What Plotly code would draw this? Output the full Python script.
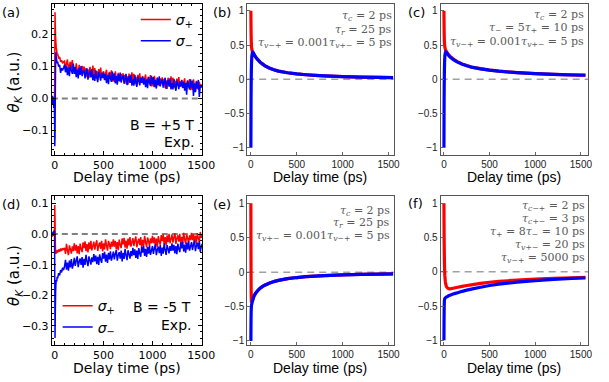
import plotly.graph_objects as go

W, H = 609, 382

# ---------------- experimental data (panels a, d) ----------------
t_exp = [-30, -25, -20, -15, -10, -5, -2, 0, 3, 6, 9, 12, 15, 20, 25, 30, 40, 50, 60, 70, 80, 90] + list(range(100, 1520, 10))

a_sigma_plus = [0.002, -0.012, 0.006, -0.018, 0.004, -0.028, 0.010, 0.080, 0.270, 0.220, 0.190, 0.175, 0.160, 0.150, 0.135, 0.140, 0.125, 0.130, 0.115, 0.120, 0.110, 0.115,
    0.117, 0.091, 0.109, 0.122, 0.087, 0.105, 0.115, 0.094, 0.120, 0.085,
    0.097, 0.077, 0.110, 0.089, 0.073, 0.105, 0.093, 0.078, 0.102, 0.086,
    0.100, 0.076, 0.095, 0.067, 0.091, 0.064, 0.099, 0.082, 0.071, 0.103,
    0.073, 0.095, 0.063, 0.086, 0.059, 0.092, 0.070, 0.097, 0.066, 0.080,
    0.085, 0.059, 0.077, 0.090, 0.055, 0.073, 0.083, 0.062, 0.088, 0.053,
    0.072, 0.052, 0.085, 0.064, 0.048, 0.080, 0.068, 0.053, 0.077, 0.061,
    0.079, 0.055, 0.074, 0.046, 0.070, 0.043, 0.078, 0.061, 0.050, 0.082,
    0.055, 0.077, 0.045, 0.068, 0.041, 0.074, 0.052, 0.079, 0.048, 0.062,
    0.070, 0.044, 0.062, 0.075, 0.040, 0.058, 0.068, 0.047, 0.073, 0.038,
    0.058, 0.038, 0.071, 0.050, 0.034, 0.066, 0.054, 0.039, 0.063, 0.047,
    0.066, 0.042, 0.061, 0.033, 0.057, 0.030, 0.065, 0.048, 0.037, 0.069,
    0.043, 0.065, 0.033, 0.056, 0.029, 0.062, 0.040, 0.067, 0.036, 0.050,
    0.058, 0.032, 0.050, 0.063, 0.028, 0.046, 0.056, 0.035, 0.061, 0.026,
    0.047, 0.027, 0.060, 0.039, 0.023, 0.055, 0.043, 0.028, 0.052, 0.036,
    0.044, 0.036]

a_sigma_minus = [-0.004, 0.008, -0.020, 0.004, -0.030, 0.002, -0.060, -0.150, -0.120, 0.020, 0.120, 0.145, 0.130, 0.120, 0.110, 0.115, 0.100, 0.105, 0.080, 0.095, 0.088, 0.095,
    0.106, 0.082, 0.101, 0.073, 0.097, 0.070, 0.105, 0.088, 0.077, 0.109,
    0.077, 0.099, 0.067, 0.090, 0.063, 0.096, 0.074, 0.101, 0.070, 0.084,
    0.089, 0.063, 0.081, 0.094, 0.059, 0.077, 0.087, 0.066, 0.092, 0.057,
    0.075, 0.055, 0.088, 0.067, 0.051, 0.083, 0.071, 0.056, 0.080, 0.064,
    0.081, 0.057, 0.076, 0.048, 0.072, 0.045, 0.080, 0.063, 0.052, 0.084,
    0.057, 0.079, 0.047, 0.070, 0.043, 0.076, 0.054, 0.081, 0.050, 0.064,
    0.072, 0.046, 0.064, 0.077, 0.042, 0.060, 0.070, 0.049, 0.075, 0.040,
    0.060, 0.040, 0.073, 0.052, 0.036, 0.068, 0.056, 0.041, 0.065, 0.049,
    0.068, 0.044, 0.063, 0.035, 0.059, 0.032, 0.067, 0.050, 0.039, 0.071,
    0.045, 0.067, 0.035, 0.058, 0.031, 0.064, 0.042, 0.069, 0.038, 0.052,
    0.060, 0.034, 0.052, 0.065, 0.030, 0.048, 0.058, 0.037, 0.063, 0.028,
    0.048, 0.028, 0.061, 0.040, 0.024, 0.056, 0.044, 0.029, 0.053, 0.037,
    0.057, 0.033, 0.052, 0.024, 0.048, 0.012, 0.056, 0.039, 0.028, 0.060,
    0.034, 0.056, 0.008, 0.047, 0.020, 0.053, 0.031, 0.058, 0.005, 0.041,
    0.034, 0.042]

d_sigma_plus = [0.002, -0.008, 0.004, -0.006, 0.003, 0.008, 0.020, 0.095, 0.050, -0.030, -0.060, -0.065, -0.055, -0.062, -0.052, -0.060, -0.050, -0.058, -0.047, -0.055, -0.046, -0.052,
    -0.045, -0.065, -0.032, -0.053, -0.069, -0.037, -0.049, -0.064, -0.040, -0.056,
    -0.030, -0.054, -0.035, -0.063, -0.039, -0.066, -0.031, -0.048, -0.059, -0.027,
    -0.046, -0.024, -0.056, -0.033, -0.060, -0.027, -0.049, -0.022, -0.053, -0.039,
    -0.025, -0.051, -0.033, -0.020, -0.055, -0.037, -0.027, -0.048, -0.022, -0.057,
    -0.030, -0.050, -0.017, -0.038, -0.054, -0.022, -0.034, -0.049, -0.025, -0.041,
    -0.017, -0.041, -0.022, -0.050, -0.026, -0.053, -0.018, -0.035, -0.046, -0.014,
    -0.034, -0.012, -0.044, -0.021, -0.048, -0.015, -0.037, -0.010, -0.041, -0.027,
    -0.013, -0.039, -0.021, -0.008, -0.043, -0.025, -0.015, -0.036, -0.010, -0.045,
    -0.019, -0.039, -0.006, -0.027, -0.043, -0.011, -0.023, -0.038, -0.014, -0.030,
    -0.006, -0.030, -0.011, -0.039, -0.015, -0.042, -0.007, -0.024, -0.035, -0.003,
    -0.023, -0.001, -0.033, -0.010, -0.037, -0.004, -0.026, 0.001, -0.030, -0.016,
    -0.002, -0.028, -0.010, 0.003, -0.032, -0.014, -0.004, -0.025, 0.001, -0.034,
    -0.009, -0.029, 0.004, -0.017, -0.033, -0.001, -0.013, -0.028, -0.004, -0.020,
    0.004, -0.020, -0.001, -0.029, -0.005, -0.032, 0.003, -0.014, -0.025, 0.007,
    -0.012, -0.004]

d_sigma_minus = [-0.003, 0.006, -0.004, 0.008, 0.002, 0.012, 0.005, -0.120, -0.340, -0.250, -0.190, -0.165, -0.150, -0.155, -0.140, -0.145, -0.128, -0.135, -0.118, -0.125, -0.110, -0.118,
    -0.106, -0.084, -0.116, -0.093, -0.120, -0.087, -0.109, -0.082, -0.113, -0.099,
    -0.078, -0.104, -0.086, -0.073, -0.108, -0.090, -0.080, -0.101, -0.075, -0.110,
    -0.081, -0.101, -0.068, -0.089, -0.105, -0.073, -0.085, -0.100, -0.076, -0.092,
    -0.065, -0.089, -0.070, -0.098, -0.074, -0.101, -0.066, -0.083, -0.094, -0.062,
    -0.080, -0.058, -0.090, -0.067, -0.094, -0.061, -0.083, -0.056, -0.087, -0.073,
    -0.057, -0.083, -0.065, -0.052, -0.087, -0.069, -0.059, -0.080, -0.054, -0.089,
    -0.061, -0.081, -0.048, -0.069, -0.085, -0.053, -0.065, -0.080, -0.056, -0.072,
    -0.045, -0.069, -0.050, -0.078, -0.054, -0.081, -0.046, -0.063, -0.074, -0.042,
    -0.061, -0.039, -0.071, -0.048, -0.075, -0.042, -0.064, -0.037, -0.068, -0.054,
    -0.039, -0.065, -0.047, -0.034, -0.069, -0.051, -0.041, -0.062, -0.036, -0.071,
    -0.044, -0.064, -0.031, -0.052, -0.068, -0.036, -0.048, -0.063, -0.039, -0.055,
    -0.030, -0.054, -0.035, -0.063, -0.039, -0.066, -0.031, -0.048, -0.059, -0.027,
    -0.047, -0.025, -0.057, -0.034, -0.061, -0.028, -0.050, -0.023, -0.054, -0.040,
    -0.026, -0.052, -0.034, -0.021, -0.056, -0.038, -0.028, -0.049, -0.023, -0.058,
    -0.040, -0.032]

# ---------------- model curves (panels b, c, e, f) ----------------
t_mod = [0, 1, 2, 3, 5, 7, 10, 15, 20, 25, 30, 40, 50, 60, 80, 100, 125, 150, 200, 250, 300, 400, 500, 600, 700, 800, 1000, 1200, 1400, 1550]

b_plus = [1.0, 0.85, 0.72, 0.63, 0.52, 0.47, 0.44, 0.41, 0.395, 0.385, 0.375, 0.35, 0.33, 0.31, 0.28, 0.25, 0.225, 0.20, 0.165, 0.14, 0.12, 0.095, 0.078, 0.066, 0.057, 0.050, 0.040, 0.032, 0.027, 0.024]
b_minus = [-1.0, -0.6, -0.3, -0.1, 0.12, 0.24, 0.33, 0.38, 0.395, 0.39, 0.375, 0.35, 0.33, 0.31, 0.28, 0.25, 0.225, 0.20, 0.165, 0.14, 0.12, 0.095, 0.078, 0.066, 0.057, 0.050, 0.040, 0.032, 0.027, 0.024]

c_plus = [1.0, 0.86, 0.74, 0.65, 0.55, 0.50, 0.47, 0.44, 0.42, 0.41, 0.40, 0.38, 0.36, 0.345, 0.32, 0.30, 0.275, 0.255, 0.225, 0.20, 0.18, 0.155, 0.135, 0.12, 0.108, 0.098, 0.083, 0.072, 0.064, 0.060]
c_minus = [-1.0, -0.6, -0.3, -0.1, 0.12, 0.25, 0.34, 0.385, 0.40, 0.395, 0.385, 0.37, 0.35, 0.335, 0.31, 0.29, 0.268, 0.25, 0.22, 0.197, 0.178, 0.153, 0.133, 0.118, 0.107, 0.097, 0.082, 0.071, 0.063, 0.059]

e_plus = [1.0, 0.4, -0.05, -0.3, -0.42, -0.44, -0.43, -0.41, -0.39, -0.37, -0.355, -0.33, -0.31, -0.29, -0.26, -0.235, -0.21, -0.19, -0.16, -0.137, -0.12, -0.095, -0.078, -0.066, -0.057, -0.050, -0.040, -0.033, -0.028, -0.025]
e_minus = [-1.0, -0.8, -0.66, -0.58, -0.51, -0.48, -0.46, -0.43, -0.41, -0.39, -0.365, -0.335, -0.31, -0.29, -0.26, -0.235, -0.21, -0.19, -0.16, -0.137, -0.12, -0.095, -0.078, -0.066, -0.057, -0.050, -0.040, -0.033, -0.028, -0.025]

f_plus = [1.0, 0.75, 0.55, 0.40, 0.18, 0.04, -0.06, -0.14, -0.18, -0.205, -0.22, -0.238, -0.245, -0.248, -0.246, -0.24, -0.232, -0.225, -0.212, -0.20, -0.19, -0.17, -0.152, -0.14, -0.13, -0.12, -0.105, -0.095, -0.087, -0.082]
f_minus = [-1.0, -0.75, -0.6, -0.5, -0.42, -0.40, -0.39, -0.38, -0.375, -0.37, -0.365, -0.36, -0.35, -0.345, -0.335, -0.325, -0.315, -0.305, -0.285, -0.268, -0.252, -0.225, -0.20, -0.18, -0.165, -0.15, -0.128, -0.11, -0.097, -0.09]

x_ticks = [0, 500, 1000, 1500]
RED, BLUE = "#ff0000", "#0000ff"
SIG_P = "<i>σ</i><sub>+</sub>"
SIG_M = "<i>σ</i><sub>−</sub>"

fig = go.Figure()

def add(x, y, color, n, width, name=None, legend=None):
    sfx = "" if n == 1 else str(n)
    fig.add_trace(go.Scatter(x=x, y=y, mode="lines", line=dict(color=color, width=width, simplify=False),
                             xaxis="x" + sfx, yaxis="y" + sfx, name=name,
                             showlegend=name is not None, legend=legend))

add(t_exp, a_sigma_plus, RED, 1, 1.5, SIG_P, "legend")
add(t_exp, a_sigma_minus, BLUE, 1, 1.5, SIG_M, "legend")
add(t_mod, b_plus, RED, 2, 3.2)
add(t_mod, b_minus, BLUE, 2, 3.2)
add(t_mod, c_plus, RED, 3, 3.2)
add(t_mod, c_minus, BLUE, 3, 3.2)
add(t_exp, d_sigma_plus, RED, 4, 1.5, SIG_P, "legend2")
add(t_exp, d_sigma_minus, BLUE, 4, 1.5, SIG_M, "legend2")
add(t_mod, e_plus, RED, 5, 3.2)
add(t_mod, e_minus, BLUE, 5, 3.2)
add(t_mod, f_plus, RED, 6, 3.2)
add(t_mod, f_minus, BLUE, 6, 3.2)

dom_x = {1: [52 / W, 206 / W], 2: [252 / W, 402 / W], 3: [450 / W, 601 / W]}
dom_top = [1 - 155 / H, 1 - 4 / H]
dom_bot = [1 - 346 / H, 1 - 197 / H]

def exp_axes(xr, yr, ydt, xd, yd):
    xa = dict(domain=xd, range=xr, tickvals=x_ticks, ticks="inside", ticklen=4, tickcolor="black",
              showline=True, linecolor="black", linewidth=1, mirror="allticks", showgrid=False, zeroline=False,
              tickfont=dict(family="DejaVu Sans", size=11, color="black"),
              minor=dict(ticks="inside", ticklen=2, dtick=100, tick0=0, tickcolor="black"))
    ya = dict(domain=yd, range=yr, dtick=ydt, tick0=0, tickformat=".1f", ticks="inside", ticklen=4, tickcolor="black",
              showline=True, linecolor="black", linewidth=1, mirror="allticks", showgrid=False, zeroline=False,
              tickfont=dict(family="DejaVu Sans", size=11, color="black"),
              minor=dict(ticks="inside", ticklen=2, dtick=0.02, tick0=0, tickcolor="black"))
    return xa, ya

def mod_axes(xr, yr, xd, yd):
    xa = dict(domain=xd, range=xr, tickvals=x_ticks, ticks="inside", ticklen=3, tickcolor="#666",
              showline=True, linecolor="#555", linewidth=1, mirror=True, showgrid=False, zeroline=False,
              tickfont=dict(family="Liberation Sans", size=10, color="#222"))
    ya = dict(domain=yd, range=yr, tickvals=[-1, -0.5, 0, 0.5, 1], ticks="inside", ticklen=3, tickcolor="#666",
              showline=True, linecolor="#555", linewidth=1, mirror=True, showgrid=False, zeroline=False,
              tickfont=dict(family="Liberation Sans", size=10, color="#222"))
    return xa, ya

ax = {}
ax[1] = exp_axes([-30, 1510], [-0.176, 0.296], 0.1, dom_x[1], dom_top)
ax[2] = mod_axes([-40, 1557], [-1.1, 1.1], dom_x[2], dom_top)
ax[3] = mod_axes([-36, 1580], [-1.1, 1.1], dom_x[3], dom_top)
ax[4] = exp_axes([-30, 1510], [-0.363, 0.123], 0.1, dom_x[1], dom_bot)
ax[5] = mod_axes([-40, 1557], [-1.06, 1.1], dom_x[2], dom_bot)
ax[6] = mod_axes([-36, 1580], [-1.07, 1.1], dom_x[3], dom_bot)

layout = {}
for n, (xa, ya) in ax.items():
    sfx = "" if n == 1 else str(n)
    xa["anchor"] = "y" + sfx
    ya["anchor"] = "x" + sfx
    layout["xaxis" + sfx] = xa
    layout["yaxis" + sfx] = ya

fig.update_layout(**layout)

# zero reference lines
for n in range(1, 7):
    sfx = "" if n == 1 else str(n)
    exp_panel = n in (1, 4)
    fig.add_shape(type="line", xref="x" + sfx + " domain", yref="y" + sfx, x0=0, x1=1, y0=0, y1=0,
                  line=dict(color="#808080" if exp_panel else "#a0a0a0", width=2 if exp_panel else 1.5,
                            dash="6px,4px" if exp_panel else "7px,5px"), layer="below")

ann = []
def txt(px, py, s, size=13, family="DejaVu Sans", color="black", xanchor="center", angle=0):
    ann.append(dict(x=px / W, y=1 - py / H, xref="paper", yref="paper", text=s, showarrow=False,
                    xanchor=xanchor, yanchor="middle", textangle=angle,
                    font=dict(family=family, size=size, color=color)))

# panel labels
for lab, px, py in [("(a)", 10, 13), ("(b)", 226, 13), ("(c)", 425, 13),
                    ("(d)", 10, 205), ("(e)", 226, 205), ("(f)", 424, 204)]:
    txt(px, py, lab, size=13)

# axis titles
txt(129, 177, "Delay time (ps)", size=14)
txt(327, 177, "Delay time (ps)", size=14, family="Liberation Sans")
txt(525, 177, "Delay time (ps)", size=14, family="Liberation Sans")
txt(129, 369, "Delay time (ps)", size=14)
txt(327, 369, "Delay time (ps)", size=14, family="Liberation Sans")
txt(525, 369, "Delay time (ps)", size=14, family="Liberation Sans")
txt(14, 82, "<i>θ</i><sub><i>K</i></sub> (a.u.)", size=15, angle=-90)
txt(14, 276, "<i>θ</i><sub><i>K</i></sub> (a.u.)", size=15, angle=-90)

# field labels
txt(200, 125, "B = +5 T", size=14, xanchor="right")
txt(200, 142, "Exp.", size=14, xanchor="right")
txt(197, 308, "B = -5 T", size=14, xanchor="right")
txt(197, 326, "Exp.", size=14, xanchor="right")

SER = "DejaVu Serif"
G = "#5a5a5a"
def tau(sub):
    return "<i>τ</i><sub><i>" + sub + "</i></sub>"

b_lines = [tau("c") + " = 2 ps", tau("r") + " = 25 ps",
           tau("v−+") + " = 0.001" + tau("v+−") + " = 5 ps"]
c_lines = [tau("c") + " = 2 ps", "<i>τ</i><sub>−</sub> = 5<i>τ</i><sub>+</sub> = 10 ps",
           tau("v−+") + " = 0.001" + tau("v+−") + " = 5 ps"]
e_lines = [tau("c") + " = 2 ps", tau("r") + " = 25 ps",
           tau("v+−") + " = 0.001" + tau("v−+") + " = 5 ps"]
f_lines = [tau("c−+") + " = 2 ps", tau("c+−") + " = 3 ps",
           "<i>τ</i><sub>+</sub> = 8<i>τ</i><sub>−</sub> = 10 ps",
           tau("v+−") + " = 20 ps", tau("v−+") + " = 5000 ps"]

for lines, px, ys in [(b_lines, 402, [16, 30, 43]), (c_lines, 599, [15, 28, 42]),
                      (e_lines, 400, [212, 224, 237]), (f_lines, 600, [207, 220, 233, 246, 259])]:
    for s, py in zip(lines, ys):
        txt(px, py, s, size=11, family=SER, color=G, xanchor="right")

fig.update_layout(
    width=W, height=H, margin=dict(l=0, r=0, t=0, b=0),
    paper_bgcolor="white", plot_bgcolor="white",
    annotations=ann,
    legend=dict(x=138 / W, y=1 - 4 / H, xanchor="left", yanchor="top", bgcolor="rgba(0,0,0,0)",
                font=dict(family="DejaVu Sans", size=14, color="black"), tracegroupgap=0),
    legend2=dict(x=58 / W, y=1 - 291 / H, xanchor="left", yanchor="top", bgcolor="rgba(0,0,0,0)",
                 font=dict(family="DejaVu Sans", size=14, color="black"), tracegroupgap=0),
)

fig.write_html("out.html", config={"displayModeBar": False},
               post_script="document.body.style.margin='0';document.body.style.padding='0';")
